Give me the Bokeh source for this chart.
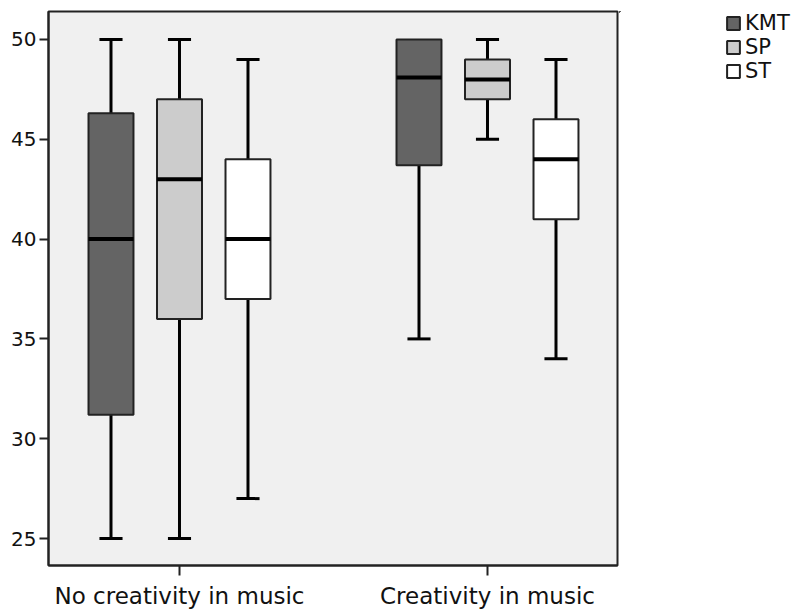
from bokeh.plotting import figure
from bokeh.layouts import row
from bokeh.models import ColumnDataSource, Legend, LegendItem, FixedTicker, Range1d
from bokeh.embed import file_html
from bokeh.resources import INLINE

groups = ["No creativity in music", "Creativity in music"]
series = ["KMT", "SP", "ST"]
colors = ["#646464", "#cccccc", "#ffffff"]

low_kmt = [25, 35]
q1_kmt = [31.2, 43.7]
med_kmt = [40, 48.1]
q3_kmt = [46.3, 50]
high_kmt = [50, 50]

low_sp = [25, 45]
q1_sp = [36, 47]
med_sp = [43, 48]
q3_sp = [47, 49]
high_sp = [50, 50]

low_st = [27, 34]
q1_st = [37, 41]
med_st = [40, 44]
q3_st = [44, 46]
high_st = [49, 49]

stats = {
    "KMT": (low_kmt, q1_kmt, med_kmt, q3_kmt, high_kmt),
    "SP": (low_sp, q1_sp, med_sp, q3_sp, high_sp),
    "ST": (low_st, q1_st, med_st, q3_st, high_st),
}

y_ticks = [25, 30, 35, 40, 45, 50]

FONT = "DejaVu Sans"
offsets = {"KMT": -0.2224, "SP": 0.0, "ST": 0.2224}
box_w = 0.146
cap_w = 0.075

p = figure(frame_width=569, frame_height=554, output_backend="svg", toolbar_location=None,
           x_range=Range1d(-0.4253, 1.4221), y_range=Range1d(23.65, 51.4),
           min_border_left=48, min_border_right=2, min_border_top=11, min_border_bottom=50)

p.background_fill_color = "#f0f0f0"
p.border_fill_color = "white"
p.outline_line_color = "#222222"
p.outline_line_width = 2
p.xgrid.visible = False
p.ygrid.visible = False

# legend-only panel to the right of the chart (its ranges keep the boxes out of view)
lg = figure(width=189, height=615, output_backend="svg", toolbar_location=None,
            x_range=Range1d(10, 11), y_range=Range1d(0, 1),
            x_axis_location=None, y_axis_location=None,
            min_border_left=0, min_border_right=0, min_border_top=0, min_border_bottom=0)
lg.outline_line_color = None
lg.xgrid.visible = False
lg.ygrid.visible = False
lg.background_fill_color = "white"
lg.border_fill_color = "white"

legend_items = []
for name, col in zip(series, colors):
    low, q1, med, q3, high = stats[name]
    xs = [i + offsets[name] for i in range(len(groups))]
    src = ColumnDataSource(dict(
        x=xs, low=low, q1=q1, med=med, q3=q3, high=high,
        x0=[x - box_w / 2 for x in xs], x1=[x + box_w / 2 for x in xs],
        c0=[x - cap_w / 2 for x in xs], c1=[x + cap_w / 2 for x in xs],
    ))
    # whiskers
    p.segment(x0="x", y0="low", x1="x", y1="q1", source=src, line_color="black", line_width=3)
    p.segment(x0="x", y0="q3", x1="x", y1="high", source=src, line_color="black", line_width=3)
    # caps
    p.segment(x0="c0", y0="low", x1="c1", y1="low", source=src, line_color="black", line_width=3)
    hi_src = ColumnDataSource(dict(
        c0=[c for c, h, t in zip(src.data["c0"], high, q3) if h > t],
        c1=[c for c, h, t in zip(src.data["c1"], high, q3) if h > t],
        high=[h for h, t in zip(high, q3) if h > t],
    ))
    p.segment(x0="c0", y0="high", x1="c1", y1="high", source=hi_src, line_color="black", line_width=3)
    # boxes
    p.vbar(x="x", width=box_w, bottom="q1", top="q3", source=src,
           fill_color=col, line_color="#222222", line_width=2)
    # medians
    p.segment(x0="x0", y0="med", x1="x1", y1="med", source=src, line_color="black", line_width=4)
    # legend swatch renderer (same data and style, outside the legend panel's view)
    r = lg.vbar(x="x", width=box_w, bottom="q1", top="q3", source=src, fill_color=col,
                line_color="#222222", line_width=2)
    legend_items.append(LegendItem(label=name, renderers=[r]))

legend = Legend(items=legend_items, location=(106, 482))
legend.margin = 0
legend.padding = 0
legend.spacing = 0
legend.border_line_alpha = 0
legend.background_fill_alpha = 0
legend.glyph_width = 16
legend.glyph_height = 16
legend.label_height = 20
legend.label_standoff = 4
legend.label_text_font = FONT
legend.label_text_font_size = "21px"
legend.label_text_color = "#111111"
lg.add_layout(legend, "center")

p.xaxis.ticker = FixedTicker(ticks=list(range(len(groups))))
p.xaxis.major_label_overrides = {i: g for i, g in enumerate(groups)}
p.xaxis.minor_tick_line_color = None
p.xaxis.major_tick_in = 0
p.xaxis.major_tick_out = 10
p.xaxis.major_tick_line_width = 2
p.xaxis.major_tick_line_color = "#222222"
p.xaxis.axis_line_color = "#222222"
p.xaxis.axis_line_width = 2
p.xaxis.major_label_standoff = 7
p.xaxis.major_label_text_font = FONT
p.xaxis.major_label_text_font_size = "23px"
p.xaxis.major_label_text_color = "#111111"

p.yaxis.ticker = FixedTicker(ticks=y_ticks)
p.yaxis.minor_tick_line_color = None
p.yaxis.major_tick_in = 0
p.yaxis.major_tick_out = 9
p.yaxis.major_tick_line_width = 2
p.yaxis.major_tick_line_color = "#222222"
p.yaxis.axis_line_color = "#222222"
p.yaxis.axis_line_width = 2
p.yaxis.major_label_standoff = 3
p.yaxis.major_label_text_font = FONT
p.yaxis.major_label_text_font_size = "20px"
p.yaxis.major_label_text_color = "#111111"

layout = row(p, lg, spacing=0)
open("out.html", "w").write(file_html(layout, INLINE))
